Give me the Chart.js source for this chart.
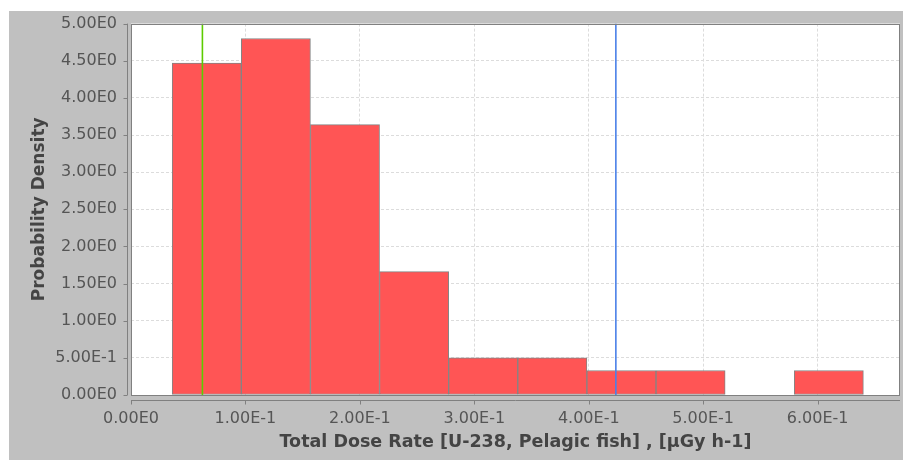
<!DOCTYPE html>
<html>
<head>
<meta charset="utf-8">
<script src="https://cdn.jsdelivr.net/npm/chart.js@4"></script>
<style>
  html, body { margin: 0; padding: 0; background: #fff; }
  #wrap { width: 903px; height: 460px; }
</style>
</head>
<body>
<div id="wrap"><canvas id="chart"></canvas></div>
<script>
// histogram bins (centres) and probability densities
const binCenters = [0.0662, 0.1266, 0.1870, 0.2474, 0.3078, 0.3682, 0.4286, 0.4890, 0.5494, 0.6098];
const densities  = [4.47, 4.80, 3.64, 1.66, 0.50, 0.50, 0.33, 0.33, 0, 0.33];
// marker lines
const greenLine = [0.0624];
const blueLine  = [0.4237];
// ticks
const xTicks = [0, 0.1, 0.2, 0.3, 0.4, 0.5, 0.6];
const xTickLabels = ['0.00E0', '1.00E-1', '2.00E-1', '3.00E-1', '4.00E-1', '5.00E-1', '6.00E-1'];
const yTicks = [0, 0.5, 1, 1.5, 2, 2.5, 3, 3.5, 4, 4.5, 5];
const yTickLabels = ['0.00E0', '5.00E-1', '1.00E0', '1.50E0', '2.00E0', '2.50E0', '3.00E0', '3.50E0', '4.00E0', '4.50E0', '5.00E0'];

const axisColor = '#808080';

const backdrop = {
    id: 'backdrop',
    beforeDraw(chart) {
        const ctx = chart.ctx, a = chart.chartArea;
        ctx.save();
        ctx.fillStyle = '#ffffff';
        ctx.fillRect(0, 0, chart.width, chart.height);
        ctx.fillStyle = '#c0c0c0';
        ctx.fillRect(9, 11, chart.width - 9, chart.height - 11);
        ctx.fillStyle = '#ffffff';
        ctx.fillRect(a.left, a.top, a.right - a.left, a.bottom - a.top);
        ctx.restore();
    },
    afterDraw(chart) {
        const ctx = chart.ctx, a = chart.chartArea;
        const xs = chart.scales.x, ys = chart.scales.y;
        ctx.save();
        ctx.strokeStyle = axisColor;
        ctx.lineWidth = 1;
        // plot outline
        ctx.strokeRect(Math.round(a.left) + 0.5, Math.round(a.top) + 0.5,
            Math.round(a.right - a.left) - 1, Math.round(a.bottom - a.top));
        // offset axis lines
        const ax = Math.round(a.left) - 4 + 0.5;
        const ay = Math.round(a.bottom) + 5 + 0.5;
        ctx.beginPath();
        ctx.moveTo(ax, a.top); ctx.lineTo(ax, a.bottom);
        ctx.moveTo(a.left, ay); ctx.lineTo(a.right, ay);
        yTicks.forEach(v => {
            const py = Math.round(ys.getPixelForValue(v)) + 0.5;
            ctx.moveTo(ax - 4, py); ctx.lineTo(ax, py);
        });
        xTicks.forEach(v => {
            const px = Math.round(xs.getPixelForValue(v)) + 0.5;
            ctx.moveTo(px, ay); ctx.lineTo(px, ay + 4);
        });
        ctx.stroke();
        ctx.restore();
    }
};

new Chart(document.getElementById('chart'), {
    type: 'bar',
    data: {
        datasets: [{
            type: 'line',
            data: [{x: greenLine[0], y: 0}, {x: greenLine[0], y: 5}],
            borderColor: '#5ccc00',
            borderWidth: 1.6,
            pointRadius: 0,
            order: 0
        }, {
            type: 'line',
            data: [{x: blueLine[0], y: 0}, {x: blueLine[0], y: 5}],
            borderColor: '#4a80e8',
            borderWidth: 1.6,
            pointRadius: 0,
            order: 0
        }, {
            label: 'Probability Density',
            data: binCenters.map((c, i) => ({x: c, y: densities[i]})),
            backgroundColor: '#ff5555',
            borderColor: '#858585',
            borderWidth: 1,
            borderSkipped: false,
            barPercentage: 1,
            categoryPercentage: 1,
            order: 1
        }]
    },
    options: {
        responsive: true,
        maintainAspectRatio: false,
        animation: false,
        events: [],
        layout: { padding: { left: 9, top: 23, right: 3, bottom: 0 } },
        plugins: { legend: { display: false }, tooltip: { enabled: false } },
        scales: {
            x: {
                type: 'linear',
                offset: false,
                min: 0,
                max: 0.672,
                afterFit(scale) { scale.height = 65; },
                afterBuildTicks(scale) { scale.ticks = xTicks.map(v => ({value: v})); },
                ticks: {
                    padding: 14,
                    color: '#555',
                    font: { family: 'DejaVu Sans', size: 16 },
                    maxRotation: 0,
                    callback: (v, i) => xTickLabels[i]
                },
                grid: { color: '#dcdcdc', drawTicks: false, offset: false },
                border: { display: false, dash: [3, 2] },
                title: {
                    display: true,
                    text: 'Total Dose Rate [U-238, Pelagic fish] , [µGy h-1]',
                    color: '#444',
                    font: { family: 'DejaVu Sans', size: 17.5, weight: 'bold' },
                    padding: { top: 0, bottom: 7 }
                }
            },
            y: {
                min: 0,
                max: 5,
                afterFit(scale) { scale.width = 122; },
                afterBuildTicks(scale) { scale.ticks = yTicks.map(v => ({value: v})); },
                ticks: {
                    padding: 14,
                    color: '#555',
                    font: { family: 'DejaVu Sans', size: 16 },
                    callback: (v, i) => yTickLabels[i]
                },
                grid: { color: '#dcdcdc', drawTicks: false },
                border: { display: false, dash: [3, 2] },
                title: {
                    display: true,
                    text: 'Probability Density',
                    color: '#444',
                    font: { family: 'DejaVu Sans', size: 17, weight: 'bold' },
                    padding: { top: 20, bottom: 0 }
                }
            }
        }
    },
    plugins: [backdrop]
});
</script>
</body>
</html>
